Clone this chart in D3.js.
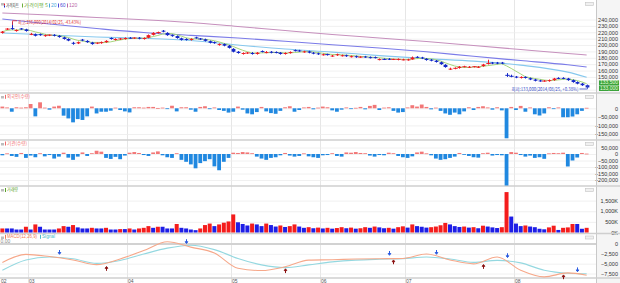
<!DOCTYPE html>
<html><head><meta charset="utf-8">
<script src="https://cdn.jsdelivr.net/npm/d3@7"></script>
<style>
html,body{margin:0;padding:0;background:#fff;}
svg{display:block;}
text{font-family:"Liberation Sans",Arial,sans-serif;}
.kr{font-family:"Noto Sans CJK KR",sans-serif;}
</style></head><body><svg id="c" width="620" height="283"></svg>
<script>
// ---------------- DATA (prices in thousand KRW, quantities in thousand shares) ----------------
const monthLabels = ["02","03","04","05","06","07","08"];
const monthStartIdx = [0,6,27,49,68,86,109];

const opens = [219,225,226.5,222,226,224.5,216.5,217,217,214,
215.5,216,214.5,212,209.5,203.5,202.5,208.5,206.5,204,
203,203,204.5,211,208,209.5,209.5,211.5,211,211.5,
209.5,211.5,216,219.5,222.5,219,215.5,214,210.5,209.5,
208,212,209.5,209,206,204.5,200,201.5,199,194,
189.5,186,187.5,187.5,186,190.5,188,189.5,189,188,
186,187.5,192,191.5,189,190,188,187,184.5,185,
182.5,184,183,184,181.5,182.5,181,182,181,181,
177,177.5,178.5,177.5,177.5,177,176.5,177.5,181.5,180.5,
178.5,177,175.5,173,169,162,163.5,164,166,165,
166,165,167,171,172.5,172.5,172.5,152.5,151,150.5,
148.5,150,148,146,144.5,143.5,143.5,145,148.5,148.5,
147.5,145,142,139.5,137];
const highs = [222,226.5,236,224.5,226.5,225.5,219,218,218,216.5,
216.5,217,215.5,213,210.5,205,205.5,209.5,207.5,205,
204,205.5,207.5,212,210.5,211,212,212.5,212,212.5,
212,216.5,220,221,223.5,220,216.5,215,211.5,210.5,
210.5,213,211,210,207,205.5,202.5,202.5,200,195,
190.5,188.5,189,189,189,191.5,190.5,190.5,190,189,
188.5,190,193,192.5,191,191,189,188,186.5,186.5,
184.5,186.5,185,185,183.5,183.5,182.5,183,182,182,
179,179,179.5,178.5,179,178.5,178.5,182,182.5,181.5,
179.5,178,176.5,174,170,164.5,165,167,167.5,167,
167,167,170.5,177,173.5,173.5,173.5,156,153.5,151.5,
151,151,149,147,145.5,145,146,148.5,149.5,149.5,
148.5,146,143,140.5,138];
const lows = [218,223.5,224,221,224,221,215.5,213.5,214.5,213,
214,213.5,211.5,208.5,206,200.5,201.5,206,203.5,200.5,
201.5,202,203.5,208.5,207,208,208.5,210,209.5,209,
208.5,210.5,215,218,220,214.5,213,210,207,207,
207,210,208,205.5,202.5,202,199,198,194.5,188.5,
186.5,185,186,185,185,188.5,187,187,187,185,
185,186.5,190,189.5,188,187,185.5,184.5,183.5,183.5,
181.5,183,182,181.5,180.5,180,180,180,179,179,
176,176.5,176.5,176.5,176,176,175.5,177,179.5,178,
175.5,174.5,172.5,169,164.5,161,162,163,165,164,
165,164,166,169.5,170,170,170,150,149.5,148,
147.5,147.5,145,143,142.5,142.5,142.5,144,146.5,146.5,
144,141,138.5,136,133];
const closes = [221,225,225,223.5,225,222,217.5,214.5,215.5,215.5,
215.5,214.5,212.5,209.5,207,203,204.5,207,204.5,201.5,
203,204.5,206.5,209.5,209.5,209.5,211,211,211,210,
211,215.5,219,219.5,221,215.5,214,211,208,208,
209.5,211,209.5,206.5,203.5,203,201.5,199,195.5,189.5,
187.5,187.5,187.5,186,188,189.5,189,188,188,186,
187.5,189,191,190.5,190,188,186.5,185.5,185.5,185,
183.5,185.5,184,182.5,182.5,181,181,181,180,180,
178,177.5,177.5,177.5,177.5,177.5,177.5,180.5,180.5,179,
176.5,175.5,173.5,170,165.5,163,163.5,166,166,166,
166,166,169.5,171,171,171,171,152.5,151,149,
150,148.5,146,144,143.5,143.5,145,147.5,147.5,147.5,
145,142,139.5,137,133.5];

const maIdx   = [0,10,20,30,40,50,60,70,80,90,100,110,120,124];
const ma20    = [218.9,215.7,212.6,210.5,207,200,193.7,188.9,183.4,178.7,174.8,168.5,157.5,149.6];
const ma60    = [240.8,232.9,225.9,219.6,215.2,211,205.8,200.5,195.3,189.4,182.3,175.7,169,165.5];
const ma120   = [250.2,247.1,243.1,239.7,235.3,229,222.8,216.5,211,205.5,199.2,192.9,186.7,184.4];

const volumes = [190,190,190,140,140,270,140,380,270,140,
140,140,190,300,270,350,240,190,190,220,
190,190,220,140,140,160,160,190,140,190,
220,300,220,270,270,190,190,400,220,190,
140,110,190,350,420,300,380,460,520,850,
480,400,330,420,380,300,420,350,280,330,
260,300,380,280,220,250,200,230,190,220,
180,210,250,200,230,180,200,250,220,280,
240,200,220,180,250,290,230,380,300,270,
230,250,280,340,450,380,300,260,280,230,
250,200,320,280,240,210,250,1900,750,420,
300,330,280,250,175,150,240,320,120,220,
240,400,400,175,220];

const foreign = [10,5,-20,6,4,6,25,-47,35,4,
-8,10,15,-43,-59,-82,-63,-68,-47,10,
-30,-20,-20,-14,4,-10,-18,-24,6,6,
4,8,8,2,4,-4,15,-18,6,6,
-8,-20,8,12,-5,5,-10,-15,-25,-20,
10,-8,-30,-35,-22,8,-18,-28,-32,-15,
6,12,-20,-10,5,8,-6,4,10,6,
-12,-20,-8,5,-4,3,8,-6,14,20,
-10,4,6,-15,-25,-22,5,18,10,22,
8,-6,4,-15,-30,-38,-25,-35,-18,6,
-10,8,12,5,-8,6,-12,-175,8,-10,
14,-20,5,-35,-42,-30,6,-4,5,-52,
-52,-48,-35,-15,3];

const institution = [-10,5,-15,-22,8,-30,-12,-25,6,-18,
-8,-35,-20,10,-28,-45,-20,12,-15,6,
25,18,-30,-38,-22,-40,-12,10,15,8,
-8,-15,12,20,-10,-25,-30,6,-45,-60,
-80,-110,-70,-55,-40,-95,-125,-60,-30,10,
8,15,12,6,-20,-35,-45,-30,-25,-10,
8,-12,-20,-15,5,-18,-25,-30,-10,-8,
6,-15,-20,12,10,15,8,6,-12,-20,
-8,-10,10,6,-15,-25,-30,-18,12,18,
5,-10,-35,-45,-40,-30,-20,8,-6,-15,
-25,-28,6,10,-12,-8,-10,-250,15,10,
-8,-20,-12,-30,-25,-37,5,8,6,10,
-96,-50,-27,8,3];

// MACD / Signal read at sampled candles
const macdIdx = [0,5,10,15,20,25,30,35,40,45,50,55,60,65,70,75,80,85,90,95,100,105,110,115,120,124];
const macdVals = [-4675,-2625,-3175,-4050,-5250,-3800,-1675,575,-800,-2300,-6175,-6750,-5800,-4100,-4000,-3825,-3750,-3675,-2550,-4050,-5050,-3300,-6675,-8350,-7350,-7925];
const signalVals = [-6675,-4050,-3300,-3750,-4925,-4175,-2550,-1050,-300,-1425,-3675,-5300,-6000,-5300,-4550,-4100,-3875,-3725,-3300,-3800,-4675,-4175,-4800,-6675,-7425,-7550];
const crossIdx  = [12,22,39,60,82,83,92,102,107,119,122];
const crossVal  = [-2925,-5425,-175,-6000,-3175,-3750,-2925,-4925,-3750,-7550,-7350];
const crossType = ["d","u","d","u","d","u","d","u","d","u","d"];

const priceTicks = [150,160,170,180,190,200,210,220,230,240];
const priceGrid  = [130,140,150,160,170,180,190,200,210,220,230,240];
const foreignTicks = [0,-50,-100,-150];
const instTicks = [50,0,-50,-100,-150,-200];
const volTicks = [0,500,1000,1500];
const macdTicks = [0,-2500,-5000,-7500];

const highText = "최고:236,000(2014/02/25, -43.43%)";
const lowText  = "최저:133,000(2014/08/25, +0.38%)";
const lastBoxes = ["133,500","133,000"];

// ---------------- DRAW ----------------
const svg = d3.select("#c");
const W = 620, H = 283, plotR = 596;
const n = closes.length;
const x = d3.scaleBand().domain(d3.range(n)).range([0, 589]);
const cx = i => x(i) + x.bandwidth()/2;

const yP = d3.scaleLinear().domain([130,240]).range([89.7,19.5]);
const yF = d3.scaleLinear().domain([-150,0]).range([134,108.3]);
const yI = d3.scaleLinear().domain([-200,50]).range([180,147.5]);
const yV = d3.scaleLinear().domain([0,1500]).range([232.5,200.6]);
const yM = d3.scaleLinear().domain([-7500,0]).range([273.5,244]);

const panels = [
  {top:0, bot:93},
  {top:93, bot:140},
  {top:140, bot:186},
  {top:186, bot:233.5},
  {top:233.5, bot:278}
];

// axis strip background
svg.append("rect").attr("x",plotR+0.5).attr("y",0).attr("width",W-plotR).attr("height",H).attr("fill","#f5f5f5");

// vertical month gridlines
svg.append("g").selectAll("line").data(monthStartIdx.slice(1)).join("line")
  .attr("x1",d=>Math.round(x(d))+0.5).attr("x2",d=>Math.round(x(d))+0.5)
  .attr("y1",0).attr("y2",H).attr("stroke","#e6e6e6").attr("stroke-width",1);

// horizontal gridlines
function grid(scale, ticks){
  svg.append("g").attr("transform",`translate(${plotR},0)`)
    .call(d3.axisLeft(scale).tickValues(ticks).tickSize(plotR).tickFormat(""))
    .call(g=>g.select(".domain").remove())
    .call(g=>g.selectAll("line").attr("stroke","#ececec").attr("stroke-width",0.8));
}
grid(yP, priceGrid); grid(yF, foreignTicks); grid(yI, instTicks); grid(yV, volTicks.slice(1)); grid(yM, macdTicks.slice(1));

// right axes
function raxis(scale, ticks, fmt){
  svg.append("g").attr("transform","translate(619,0)")
    .call(d3.axisLeft(scale).tickValues(ticks).tickSize(0).tickPadding(1).tickFormat(fmt))
    .call(g=>g.select(".domain").remove())
    .call(g=>g.selectAll("text").attr("font-size",5.5).attr("fill","#333").attr("font-family","Liberation Sans, Arial, sans-serif"));
}
const f = d3.format(",");
raxis(yP, priceTicks, d=>f(d*1000));
raxis(yF, foreignTicks, d=>f(d*1000));
raxis(yI, instTicks, d=>f(d*1000));
raxis(yV, volTicks, d=>f(d)+"K");
raxis(yM, macdTicks, d=>f(d));

// separators
svg.append("line").attr("x1",plotR+0.5).attr("x2",plotR+0.5).attr("y1",0).attr("y2",H).attr("stroke","#c8c8c8");
svg.append("g").selectAll("line").data(panels.slice(1).map(p=>p.top).concat([278])).join("line")
  .attr("x1",0).attr("x2",W).attr("y1",d=>d).attr("y2",d=>d).attr("stroke","#cfcfcf").attr("stroke-width",1.4);

// panel icons
panels.forEach(p=>{
  svg.append("rect").attr("x",585.5).attr("y",p.top+2.5).attr("width",8).attr("height",3).attr("fill","#f0f0f0").attr("stroke","#c4c4c4").attr("stroke-width",0.6);
  svg.append("rect").attr("x",1).attr("y",p.top+3).attr("width",3).attr("height",2.5).attr("fill","#bdbdbd");
});

// ---- moving averages
const maLine = (vals)=> d3.line().x((d,k)=>cx(maIdx[k])).y(d=>yP(d)).curve(d3.curveMonotoneX)(vals);
svg.append("path").attr("d",maLine(ma120)).attr("fill","none").attr("stroke","#c690bd").attr("stroke-width",1.1);
svg.append("path").attr("d",maLine(ma60)).attr("fill","none").attr("stroke","#7b7be8").attr("stroke-width",1.1);
svg.append("path").attr("d",maLine(ma20)).attr("fill","none").attr("stroke","#86c8ee").attr("stroke-width",1.1);
const ma5 = closes.map((c,i)=>d3.mean(closes.slice(Math.max(0,i-4), i+1)));
svg.append("path").attr("d",d3.line().x((d,i)=>cx(i)).y(d=>yP(d))(ma5)).attr("fill","none").attr("stroke","#a6d67c").attr("stroke-width",1);

// ---- candles
const RED = "#ee1c24", BLUE = "#1428c8";
const cg = svg.append("g");
d3.range(n).forEach(i=>{
  const o = opens[i], c = closes[i];
  const col = c > o ? RED : (c < o ? BLUE : (i>0 && c>=closes[i-1] ? RED : BLUE));
  const xc = Math.round(cx(i)) + 0.5;
  cg.append("line").attr("x1",xc).attr("x2",xc).attr("y1",yP(highs[i])).attr("y2",yP(lows[i])).attr("stroke",col).attr("stroke-width",1);
  if (c === o){
    cg.append("line").attr("x1",xc-2.2).attr("x2",xc+2.2).attr("y1",yP(c)).attr("y2",yP(c)).attr("stroke",col).attr("stroke-width",1);
  } else {
    const y0 = yP(Math.max(o,c)), y1 = yP(Math.min(o,c));
    cg.append("rect").attr("x",xc-1.9).attr("width",3.8).attr("y",y0).attr("height",Math.max(1,y1-y0)).attr("fill",col);
  }
});

// ---- high / low annotations
{
  const xi = highs.indexOf(d3.max(highs));
  const xh = Math.round(cx(xi))+0.5, yh = yP(highs[xi]);
  svg.append("path").attr("d",`M${xh},${yh+3}V${yh-1.3}H${xh+4.5}`).attr("fill","none").attr("stroke","#e23030").attr("stroke-width",0.8);
  svg.append("text").attr("class","kr").attr("x",xh+5.5).attr("y",yh+0.2).attr("dominant-baseline","middle")
    .attr("font-size",5).attr("fill","#e23030").attr("textLength",63).attr("lengthAdjust","spacingAndGlyphs").text(highText);
  const li = lows.indexOf(d3.min(lows));
  const xl = Math.round(cx(li))+0.5, yl = yP(lows[li]);
  svg.append("path").attr("d",`M${xl-8},${yl+1.2}H${xl}V${yl-2.5}`).attr("fill","none").attr("stroke","#3a4fc8").attr("stroke-width",0.8);
  svg.append("text").attr("class","kr").attr("x",xl-9).attr("y",yl+1.6).attr("text-anchor","end").attr("dominant-baseline","middle")
    .attr("font-size",5).attr("fill","#3a4fc8").attr("textLength",67).attr("lengthAdjust","spacingAndGlyphs").text(lowText);
}

// last price boxes
lastBoxes.forEach((t,k)=>{
  const yb = 80.4 + k*5.5;
  svg.append("rect").attr("x",599).attr("y",yb).attr("width",20).attr("height",5.1).attr("fill","#3aa33a");
  svg.append("text").attr("x",618).attr("y",yb+2.7).attr("text-anchor","end").attr("dominant-baseline","middle")
    .attr("font-size",5).attr("fill","#eaffdf").text(t);
});

// ---- foreign / institution bars
function netBars(vals, ys, top, bot){
  const id = "clip"+top;
  svg.append("clipPath").attr("id",id).append("rect").attr("x",0).attr("y",top+1).attr("width",plotR).attr("height",bot-top-1.5);
  svg.append("g").attr("clip-path",`url(#${id})`).selectAll("rect").data(vals).join("rect")
    .attr("x",(d,i)=>cx(i)-1.9).attr("width",3.8)
    .attr("y",d=>Math.min(ys(d),ys(0))).attr("height",d=>Math.max(0.8,Math.abs(ys(d)-ys(0))))
    .attr("fill",d=>d>=0?"#f27777":"#2088e0");
}
netBars(foreign, yF, 93, 140);
netBars(institution, yI, 140, 186);

// ---- volume
svg.append("g").selectAll("rect").data(volumes).join("rect")
  .attr("x",(d,i)=>cx(i)-2).attr("width",4)
  .attr("y",d=>yV(d)).attr("height",d=>yV(0)-yV(d))
  .attr("fill",(d,i)=> (i===0 || d>volumes[i-1]) ? "#f41c1c" : "#1e1ee6");

// ---- MACD
svg.append("line").attr("x1",0).attr("x2",plotR).attr("y1",yM(0)).attr("y2",yM(0)).attr("stroke","#d2d2d2").attr("stroke-width",2.2);
const mLine = d3.line().x((d,k)=>cx(macdIdx[k])).y(d=>yM(d)).curve(d3.curveMonotoneX);
svg.append("path").attr("d",mLine(signalVals)).attr("fill","none").attr("stroke","#94d8e0").attr("stroke-width",1.1);
svg.append("path").attr("d",mLine(macdVals)).attr("fill","none").attr("stroke","#f6a88a").attr("stroke-width",1.1);
crossIdx.forEach((ci,k)=>{
  const xc = Math.round(cx(ci))+0.5, yc = yM(crossVal[k]);
  if (crossType[k]==="d"){
    svg.append("path").attr("d",`M${xc},${yc-5.5}V${yc-2.5}M${xc-1.3},${yc-3}L${xc},${yc-1.2}L${xc+1.3},${yc-3}Z`)
      .attr("stroke","#2a5ae0").attr("fill","#2a5ae0").attr("stroke-width",1);
  } else {
    svg.append("path").attr("d",`M${xc},${yc+5.5}V${yc+2.5}M${xc-1.3},${yc+3}L${xc},${yc+1.2}L${xc+1.3},${yc+3}Z`)
      .attr("stroke","#8a1010").attr("fill","#8a1010").attr("stroke-width",1);
  }
});

// ---- x labels
svg.append("g").selectAll("text").data(monthStartIdx).join("text")
  .attr("x",d=>Math.round(x(d))+1).attr("y",281.5).attr("dominant-baseline","middle")
  .attr("font-size",5).attr("fill","#555").text((d,k)=>monthLabels[k]);

// ---- headers / legends
function hdr(items, y){
  items.forEach(it=>{
    if (it.m) svg.append("rect").attr("x",it.x-2).attr("y",y-2).attr("width",1).attr("height",4).attr("fill",it.m);
    const t = svg.append("text").attr("class",it.kr?"kr":null).attr("x",it.x).attr("y",y).attr("dominant-baseline","middle")
      .attr("font-size",it.fs||5).attr("fill",it.c).text(it.t);
    if (it.w) t.attr("textLength",it.w).attr("lengthAdjust","spacingAndGlyphs");
  });
}
svg.append("rect").attr("x",4).attr("y",3.5).attr("width",1).attr("height",2).attr("fill",RED);
svg.append("rect").attr("x",4).attr("y",5.5).attr("width",1).attr("height",2).attr("fill",BLUE);
hdr([
  {t:"가격차트", x:6, c:"#333", kr:true, w:13},
  {t:"가격이평 5", x:24, c:"#6aad3c", kr:true, m:"#6aad3c", w:24},
  {t:"20", x:51, c:"#4aa8dc", m:"#4aa8dc"},
  {t:"60", x:60, c:"#4b4bd8", m:"#4b4bd8"},
  {t:"120", x:69, c:"#b868a8", m:"#b868a8"}
], 5.5);
hdr([{t:"외국인(수량)", x:7, c:"#f06a6a", kr:true, m:"#f06a6a", w:23}], 96.8);
hdr([{t:"기관(수량)", x:7, c:"#f06a6a", kr:true, m:"#f06a6a", w:20}], 143.5);
hdr([{t:"거래량", x:7, c:"#5aa02c", kr:true, m:"#5aa02c", w:11}], 190);
hdr([
  {t:"MACD(12,26,9)", x:7, c:"#f07a58", m:"#f07a58", w:30},
  {t:"Signal", x:42, c:"#48bccc", m:"#48bccc", w:13}
], 236.8);
svg.append("text").attr("x",0.5).attr("y",241.3).attr("dominant-baseline","middle").attr("font-size",5).attr("fill","#888").text("0.00");
</script></body></html>
